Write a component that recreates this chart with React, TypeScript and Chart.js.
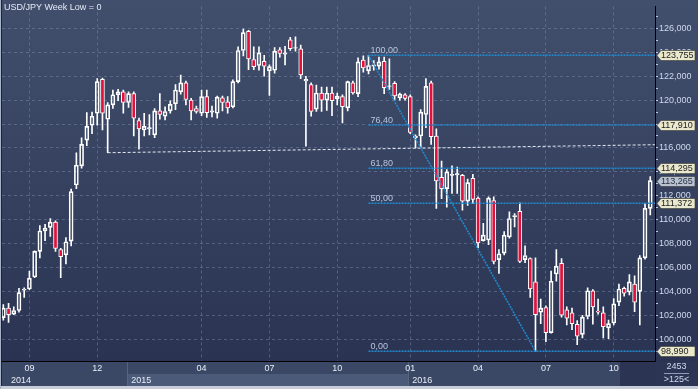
import React, { useEffect, useRef } from 'react';
import { Chart, registerables } from 'chart.js';

Chart.register(...registerables);

const TITLE = 'USD/JPY Week Low = 0';

// weekly candles (index 0 = first visible week)
const OPEN = [
  101.8, 102.6, 102.1, 102.4, 104.1, 104.2, 105.2, 107.35, 109.05, 109.35,
  109.8, 107.5, 107.05, 108.2, 112.9, 114.5, 116.65, 117.9, 118.9, 121.75,
  118.4, 119.6, 120.45, 120.7, 119.8, 120.55, 118.3, 117.5, 117.6, 117.1,
  119.1, 118.65, 119.1, 119.7, 120.7, 121.45, 120.0, 119.3, 118.9, 120.3,
  119.0, 118.9, 120.2, 119.85, 119.45, 121.55, 124.15, 125.75, 123.4, 122.9,
  123.25, 122.45, 122.5, 124.2, 123.85, 125.05, 124.35, 124.3, 121.6, 121.3,
  119.25, 120.6, 120.0, 120.6, 120.1, 120.3, 119.35, 121.45, 120.55, 123.35,
  122.45, 122.85, 122.85, 123.25, 121.15, 121.4, 120.2, 120.45, 120.3, 116.85,
  117.0, 118.8, 121.45, 117.0, 113.55, 112.6, 113.7, 113.75, 113.7, 111.55,
  113.45, 111.8, 108.25, 108.3, 111.6, 106.65, 107.2, 108.55, 110.25, 110.7,
  106.65, 106.75, 104.8, 102.25, 102.65, 100.55, 105.45, 106.35, 102.45, 102.2,
  101.25, 100.4, 101.9, 104.05, 102.35, 102.2, 100.95, 101.35, 103.1, 104.25,
  103.95, 104.6, 104.0, 106.8, 110.95,
];
const HIGH = [
  102.9, 103.0, 102.7, 104.25, 104.3, 105.7, 107.4, 109.5, 109.6, 110.1,
  109.9, 107.6, 108.5, 112.55, 115.6, 116.85, 118.95, 119.0, 121.8, 121.85,
  119.8, 120.85, 120.9, 120.85, 120.7, 120.7, 118.5, 118.9, 118.8, 119.3,
  120.55, 119.45, 119.95, 121.3, 122.1, 121.6, 120.15, 119.5, 120.85, 120.85,
  119.5, 120.35, 120.35, 120.3, 121.7, 124.45, 125.95, 125.85, 124.45, 124.45,
  123.75, 122.95, 124.4, 124.4, 124.5, 125.25, 125.3, 124.6, 122.0, 121.45,
  121.25, 121.1, 121.1, 121.1, 120.6, 120.45, 121.6, 121.6, 123.55, 123.7,
  123.755, 123.3, 123.6, 123.6, 123.45, 121.55, 120.6, 120.55, 120.45, 117.1,
  119.2, 121.8, 121.6, 117.6, 114.9, 114.2, 114.5, 114.4, 113.8, 113.4,
  113.8, 111.9, 109.7, 111.9, 111.9, 107.5, 109.0, 110.65, 110.5, 111.4,
  107.8, 106.8, 106.8, 103.35, 102.8, 105.7, 107.5, 106.75, 102.7, 102.6,
  101.55, 102.0, 104.3, 104.15, 103.35, 102.7, 101.6, 103.4, 104.6, 104.35,
  105.4, 105.3, 107.0, 111.35, 113.6,
];
const LOW = [
  101.6, 101.4, 102.05, 102.25, 103.5, 104.15, 105.15, 106.8, 108.25, 108.6,
  107.35, 105.15, 106.3, 107.8, 112.6, 114.3, 116.2, 117.2, 117.9, 117.5,
  115.6, 119.3, 119.95, 118.9, 119.4, 117.0, 115.9, 117.0, 117.1, 116.85,
  118.4, 118.35, 118.9, 119.2, 120.5, 119.6, 118.35, 118.9, 118.7, 118.55,
  118.6, 118.5, 119.1, 118.9, 119.35, 121.45, 123.7, 122.55, 122.55, 122.5,
  122.0, 120.4, 122.25, 123.6, 122.95, 124.15, 124.1, 121.8, 116.15, 118.65,
  119.05, 119.05, 119.15, 118.7, 119.6, 118.1, 119.1, 120.5, 120.3, 122.35,
  122.2, 122.5, 122.6, 120.55, 120.9, 120.0, 120.0, 120.0, 117.2, 116.0,
  116.0, 117.7, 116.3, 110.95, 111.75, 111.05, 112.2, 112.2, 110.8, 111.2,
  111.35, 107.65, 108.2, 107.9, 106.3, 105.5, 107.05, 108.45, 109.4, 106.4,
  106.4, 103.5, 98.99, 101.3, 99.8, 100.5, 104.85, 101.85, 101.2, 100.8,
  99.55, 100.1, 101.7, 101.25, 102.1, 100.1, 100.05, 101.2, 102.8, 103.6,
  103.7, 102.3, 101.2, 106.7, 110.4,
];
const CLOSE = [
  102.6, 102.05, 102.4, 103.9, 104.2, 105.1, 107.35, 109.05, 109.3, 109.8,
  107.6, 106.9, 108.15, 112.35, 114.55, 116.3, 117.8, 118.65, 121.55, 118.9,
  119.6, 120.45, 120.7, 119.8, 120.55, 118.5, 117.6, 117.8, 117.7, 119.1,
  118.8, 119.05, 119.65, 120.85, 121.45, 120.05, 119.1, 119.05, 120.3, 118.95,
  119.1, 120.25, 119.8, 119.35, 121.55, 124.15, 125.65, 123.45, 122.8, 123.95,
  122.85, 122.8, 124.1, 123.9, 123.95, 124.3, 124.4, 122.1, 121.75, 119.05,
  120.6, 120.0, 120.6, 119.95, 120.35, 119.45, 121.55, 120.6, 123.2, 122.7,
  122.9, 122.95, 123.2, 121.05, 121.2, 120.35, 120.5, 120.15, 117.3, 117.0,
  119.0, 121.15, 116.95, 113.25, 112.6, 114.0, 113.8, 113.85, 111.55, 113.1,
  111.7, 108.05, 108.7, 111.8, 106.5, 107.15, 108.7, 110.1, 110.35, 106.5,
  107.0, 104.2, 102.05, 102.6, 100.55, 104.85, 106.1, 102.0, 101.75, 101.3,
  100.25, 101.85, 104.05, 102.7, 102.25, 101.05, 101.3, 102.95, 104.2, 103.85,
  104.8, 103.1, 106.8, 110.95, 113.265,
];

// axes
const Y_TICKS = [99, 100, 101, 102, 103, 104, 105, 106, 107, 108, 109, 110, 111, 112, 113, 114, 115, 116, 117, 118, 119, 120, 121, 122, 123, 124, 125, 126, 127];
const MONTH_TICK_IDX = [5, 18, 38, 51, 64, 78, 91, 104, 117];
const MONTH_LABELS = ['09', '12', '04', '07', '10', '01', '04', '07', '10'];
const YEAR_BOUNDARY_IDX = [-0.26, 23.75, 77.6];
const YEAR_LABEL_IDX = [1.45, 24.5, 78.4];
const YEAR_LABELS = ['2014', '2015', '2016'];
const AXIS_DARK_FROM_IDX = 118.2;

// fibonacci retracement + trend line
const FIB_START_IDX = 70;
const FIB_END_IDX = 102;
const FIB_LABELS = ['100,00', '76,40', '61,80', '50,00', '0,00'];
const FIB_VALUES = [123.755, 117.91, 114.295, 111.372, 98.99];
const TREND_IDX = [20, 124.9];
const TREND_VALUES = [115.6, 116.27];
const LAST_PRICE = 113.265;
const BAR_TOTAL_TEXT = '2453';
const BARS_VISIBLE_TEXT = '>125<';

const X_MIN = -0.255;
const X_MAX = 124.91;
const Y_MIN = 98.174;
const Y_MAX = 127.843;

const FONT = "'Liberation Sans', Arial, sans-serif";
const RED = '#e2103c';
const GRID = 'rgba(135,150,185,0.42)';
const FIB_BLUE = '#1f8bd2';

const fmt = (v: number, d: number) => v.toFixed(d).replace('.', ',');

const decorPlugin = {
  id: 'decor',
  beforeDraw(chart: any) {
    const { ctx, chartArea: ca, width, height } = chart;
    const xs = chart.scales.x;
    const x2 = chart.scales.x2;
    ctx.save();
    const g = ctx.createLinearGradient(0, 0, 0, ca.bottom);
    g.addColorStop(0, '#414f6d');
    g.addColorStop(1, '#2a3452');
    ctx.fillStyle = g;
    ctx.fillRect(0, 0, width, height);
    // bottom axis rows
    ctx.fillStyle = '#3a4765';
    ctx.fillRect(0, xs.top, ca.right, x2.bottom - xs.top);
    const b1 = xs.getPixelForValue(YEAR_BOUNDARY_IDX[1]);
    const b2 = xs.getPixelForValue(YEAR_BOUNDARY_IDX[2]);
    ctx.fillStyle = '#4b5a79';
    ctx.fillRect(b1, x2.top, b2 - b1, x2.bottom - x2.top);
    const dk = xs.getPixelForValue(AXIS_DARK_FROM_IDX);
    ctx.fillStyle = '#2b3553';
    ctx.fillRect(dk, xs.top, ca.right - dk, x2.bottom - xs.top);
    ctx.fillStyle = '#56657f';
    [b1, b2].forEach((b) => ctx.fillRect(Math.round(b), xs.top, 1, x2.bottom - xs.top));
    // corner box
    ctx.fillStyle = '#2c3654';
    ctx.fillRect(ca.right, xs.top, width - ca.right, x2.bottom - xs.top);
    // frame strips
    ctx.fillStyle = '#c6cdd9';
    ctx.fillRect(0, x2.bottom, width, height - x2.bottom);
    ctx.fillStyle = '#a7b2c6';
    ctx.fillRect(0, 0, 1, height);
    ctx.fillStyle = '#1d2437';
    ctx.fillRect(1, 0, 1, x2.bottom);
    ctx.restore();
  },
  afterDraw(chart: any) {
    const { ctx, chartArea: ca, width } = chart;
    const xs = chart.scales.x;
    const x2 = chart.scales.x2;
    const ys = chart.scales.y;
    ctx.save();
    // title
    ctx.font = `9px ${FONT}`;
    ctx.fillStyle = '#e4eaf4';
    ctx.textBaseline = 'middle';
    ctx.textAlign = 'left';
    ctx.fillText(TITLE, 4, 8);
    // fib labels
    ctx.font = `9px ${FONT}`;
    ctx.fillStyle = '#b7c6dd';
    ctx.textBaseline = 'alphabetic';
    const fx = xs.getPixelForValue(FIB_START_IDX);
    FIB_VALUES.forEach((v, i) => {
      ctx.fillText(FIB_LABELS[i], fx + 2, ys.getPixelForValue(v) - 2);
    });
    // price tags
    const tag = (v: number, bg: string, fg: string) => {
      const cy = Math.round(ys.getPixelForValue(v)) + 0.5;
      const l = ca.right + 2;
      ctx.beginPath();
      ctx.moveTo(l, cy);
      ctx.lineTo(l + 4, cy - 5);
      ctx.lineTo(width - 3, cy - 5);
      ctx.lineTo(width - 3, cy + 5);
      ctx.lineTo(l + 4, cy + 5);
      ctx.closePath();
      ctx.fillStyle = bg;
      ctx.fill();
      ctx.strokeStyle = 'rgba(60,60,50,0.6)';
      ctx.lineWidth = 1;
      ctx.stroke();
      ctx.fillStyle = fg;
      ctx.font = `9px ${FONT}`;
      ctx.textBaseline = 'middle';
      ctx.textAlign = 'left';
      ctx.fillText(fmt(v, 3), l + 4, cy + 0.5);
    };
    tag(FIB_VALUES[0], '#eae8cd', '#1c1c1c');
    tag(FIB_VALUES[1], '#eae8cd', '#1c1c1c');
    tag(FIB_VALUES[2], '#eae8cd', '#1c1c1c');
    tag(LAST_PRICE, '#b8c2d1', '#26303e');
    tag(FIB_VALUES[3], '#eae8cd', '#1c1c1c');
    tag(FIB_VALUES[4], '#eae8cd', '#1c1c1c');
    // corner box texts
    const cx = (ca.right + width) / 2;
    ctx.fillStyle = '#cdd8ea';
    ctx.textAlign = 'center';
    ctx.textBaseline = 'middle';
    ctx.font = `9px ${FONT}`;
    ctx.fillText(BAR_TOTAL_TEXT, cx, xs.top + 6);
    ctx.fillText(BARS_VISIBLE_TEXT, cx, x2.top + 6);
    ctx.fillStyle = '#8f9db6';
    ctx.fillRect(ca.right + 9, xs.top + 12, width - ca.right - 18, 1);
    ctx.restore();
  },
};

export default function App() {
  const ref = useRef<HTMLCanvasElement | null>(null);
  useEffect(() => {
    if (!ref.current) return;
    const bodies = OPEN.map((o, i) => ({ x: i, y: [o, CLOSE[i]] }));
    const upper = OPEN.map((o, i) => ({ x: i, y: [Math.max(o, CLOSE[i]), HIGH[i]] }));
    const lower = OPEN.map((o, i) => ({ x: i, y: [LOW[i], Math.min(o, CLOSE[i])] }));
    const fibLines = FIB_VALUES.map((v) => ({
      type: 'line' as const,
      data: [{ x: FIB_START_IDX, y: v }, { x: X_MAX, y: v }],
      borderColor: FIB_BLUE,
      borderWidth: 1.5,
      borderDash: [2, 1],
      pointRadius: 0,
      fill: false,
      order: -1,
    }));
    const chart = new Chart(ref.current, {
      type: 'bar',
      data: {
        datasets: [
          {
            type: 'bar',
            data: bodies as any,
            backgroundColor: (c: any) => (OPEN[c.dataIndex] > CLOSE[c.dataIndex] ? RED : 'rgba(0,0,0,0)'),
            borderColor: '#ffffff',
            borderWidth: 1,
            borderSkipped: false,
            barThickness: 4,
            grouped: false,
            order: 0,
          } as any,
          {
            type: 'bar',
            data: upper as any,
            backgroundColor: '#ffffff',
            borderWidth: 0,
            barThickness: 1,
            grouped: false,
            order: 1,
          } as any,
          {
            type: 'bar',
            data: lower as any,
            backgroundColor: '#ffffff',
            borderWidth: 0,
            barThickness: 1,
            grouped: false,
            order: 1,
          } as any,
          ...(fibLines as any[]),
          {
            type: 'line',
            data: [{ x: FIB_START_IDX, y: FIB_VALUES[0] }, { x: FIB_END_IDX, y: FIB_VALUES[4] }],
            borderColor: FIB_BLUE,
            borderWidth: 1.5,
            borderDash: [2, 1],
            pointRadius: 0,
            fill: false,
            order: -1,
          } as any,
          {
            type: 'line',
            data: [{ x: TREND_IDX[0], y: TREND_VALUES[0] }, { x: TREND_IDX[1], y: TREND_VALUES[1] }],
            borderColor: '#e6e9ef',
            borderWidth: 1,
            borderDash: [3, 2],
            pointRadius: 0,
            fill: false,
            order: -1,
          } as any,
        ],
      },
      options: {
        animation: false,
        responsive: false,
        devicePixelRatio: 1,
        events: [],
        layout: { padding: { left: 2, top: 2, right: 0, bottom: 3 } },
        plugins: { legend: { display: false }, tooltip: { enabled: false }, title: { display: false } },
        scales: {
          x: {
            type: 'linear',
            position: 'bottom',
            weight: 0,
            min: X_MIN,
            max: X_MAX,
            offset: false,
            afterBuildTicks: (s: any) => {
              s.ticks = MONTH_TICK_IDX.map((v) => ({ value: v }));
            },
            afterFit: (s: any) => {
              s.height = 13;
            },
            ticks: {
              autoSkip: false,
              maxRotation: 0,
              padding: 2,
              color: '#e9eef7',
              font: { size: 9, family: FONT },
              callback: (_v: any, i: number) => MONTH_LABELS[i],
            },
            grid: { color: GRID, drawTicks: false, offset: false },
            border: { display: true, color: '#000000', width: 1, dash: [3, 3] },
          },
          x2: {
            type: 'linear',
            position: 'bottom',
            weight: 1,
            min: X_MIN,
            max: X_MAX,
            offset: false,
            afterBuildTicks: (s: any) => {
              s.ticks = YEAR_LABEL_IDX.map((v) => ({ value: v }));
            },
            afterFit: (s: any) => {
              s.height = 12;
            },
            ticks: {
              autoSkip: false,
              maxRotation: 0,
              align: 'start',
              padding: 1,
              color: '#e9eef7',
              font: { size: 9, family: FONT },
              callback: (_v: any, i: number) => YEAR_LABELS[i],
            },
            grid: { display: false, drawTicks: false },
            border: { display: false },
          },
          y: {
            type: 'linear',
            position: 'right',
            min: Y_MIN,
            max: Y_MAX,
            beginAtZero: false,
            afterBuildTicks: (s: any) => {
              s.ticks = Y_TICKS.map((v) => ({ value: v }));
            },
            afterFit: (s: any) => {
              s.width = 43;
            },
            ticks: {
              autoSkip: false,
              padding: 1,
              color: '#cfdaee',
              font: { size: 9, family: FONT },
              callback: (v: any) => (Number(v) % 2 === 0 ? fmt(Number(v), 3) : ''),
            },
            grid: {
              color: (c: any) => (c.tick && c.tick.value % 2 === 0 ? GRID : 'rgba(0,0,0,0)'),
              drawTicks: true,
              tickLength: 3,
              tickColor: '#b9c7df',
            },
            border: { display: true, color: '#000000', width: 1, dash: [3, 3] },
          },
        },
      } as any,
      plugins: [decorPlugin],
    });
    return () => chart.destroy();
  }, []);
  return (
    <div style={{ position: 'fixed', left: 0, top: 0, width: 698, height: 389 }}>
      <canvas ref={ref} width={698} height={389} />
    </div>
  );
}
